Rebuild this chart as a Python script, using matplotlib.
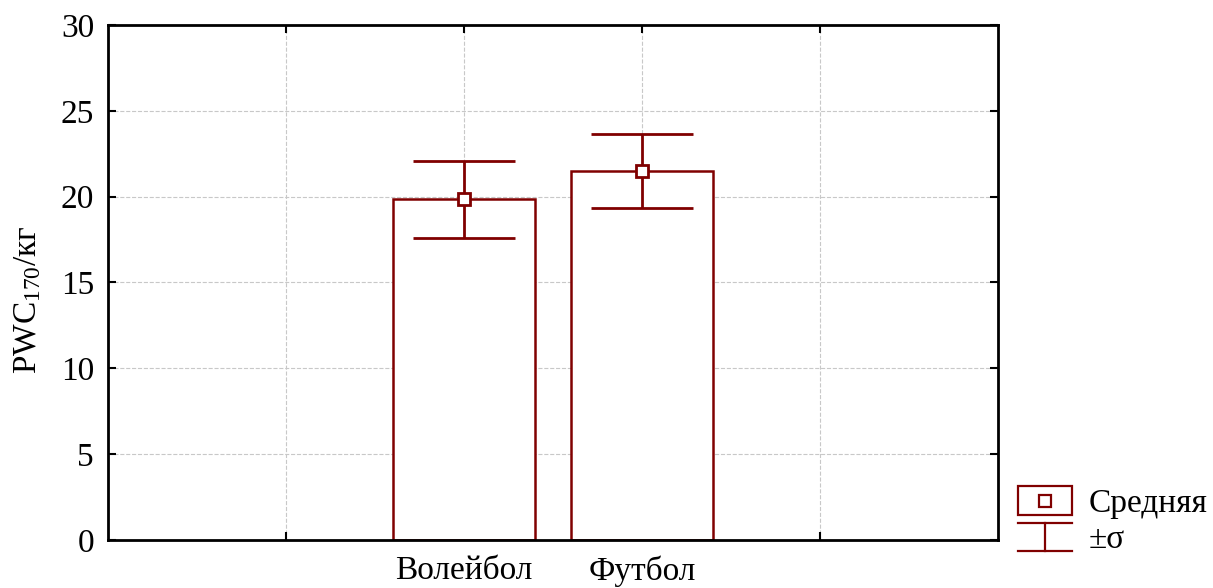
import numpy as np
import matplotlib
matplotlib.use("Agg")
import matplotlib.pyplot as plt
from matplotlib.lines import Line2D
from matplotlib.patches import Rectangle
from matplotlib.legend_handler import HandlerBase

plt.rcParams['font.family'] = ['Liberation Serif', 'DejaVu Serif']
plt.rcParams['mathtext.fontset'] = 'custom'
plt.rcParams['mathtext.rm'] = 'Liberation Serif'
plt.rcParams['mathtext.it'] = 'Liberation Serif:italic'

# data
categories = ['Волейбол', 'Футбол']
positions = [2, 3]
means = [19.85, 21.5]
sds = [2.25, 2.14]

dark_red = '#800000'
fs = 24


class HandlerSigma(HandlerBase):
    # cap - stem - cap, like the error bar glyph
    def create_artists(self, legend, orig_handle, xdescent, ydescent,
                       width, height, fontsize, trans):
        x0, x1 = -xdescent, -xdescent + width
        y0, y1 = -ydescent, -ydescent + height
        xm = (x0 + x1) / 2
        kw = dict(color=dark_red, lw=1.6, transform=trans)
        return [Line2D([x0, x1], [y1, y1], **kw),
                Line2D([xm, xm], [y0, y1], **kw),
                Line2D([x0, x1], [y0, y0], **kw)]


class HandlerMean(HandlerBase):
    def create_artists(self, legend, orig_handle, xdescent, ydescent,
                       width, height, fontsize, trans):
        x0, y0 = -xdescent, -ydescent
        r = Rectangle((x0, y0), width, height, facecolor='white',
                      edgecolor=dark_red, lw=1.6, transform=trans)
        m = Line2D([x0 + width / 2], [y0 + height / 2], marker='s', ms=8.5,
                   mfc='white', mec=dark_red, mew=1.6, transform=trans)
        return [r, m]


fig = plt.figure(figsize=(12.13, 5.88), dpi=100)
ax = fig.add_axes([0.089, 0.0816, 0.734, 0.876])

ax.bar(positions, means, width=0.8, color='white', edgecolor=dark_red,
       linewidth=1.8, zorder=2)
ax.errorbar(positions, means, yerr=sds, fmt='s', ms=8.5, mfc='white',
            mec=dark_red, mew=2, ecolor=dark_red, elinewidth=2,
            capsize=36.5, capthick=2, zorder=3)

ax.set_xlim(0, 5)
ax.set_ylim(0, 30)
ax.set_xticks([1, 2, 3, 4])
ax.set_xticklabels(['', categories[0], categories[1], ''])
ax.set_yticks(np.arange(0, 31, 5))
ax.tick_params(direction='in', top=True, right=True, length=6, width=1.5,
               labelsize=fs)
ax.tick_params(axis='x', pad=11)
ax.tick_params(axis='y', pad=10)
ax.grid(True, color='#c8c8c8', linestyle='--', linewidth=0.8, zorder=0)
ax.set_axisbelow(True)
for s in ax.spines.values():
    s.set_linewidth(2)

fig.text(28 / 1213, 1 - 300 / 588, r'PWC$_{170}$/кг', rotation=90,
         ha='center', va='center', fontsize=fs)

h1 = object()
h2 = object()
ax.legend([h1, h2], ['Средняя', '±σ'],
          handler_map={h1: HandlerMean(), h2: HandlerSigma()},
          loc='lower left', bbox_to_anchor=(1.0225, -0.03), frameon=False,
          fontsize=fs, handlelength=1.6, handleheight=0.95,
          handletextpad=0.5, labelspacing=0.1, borderaxespad=0,
          borderpad=0)

fig.savefig('out.png', dpi=100)
